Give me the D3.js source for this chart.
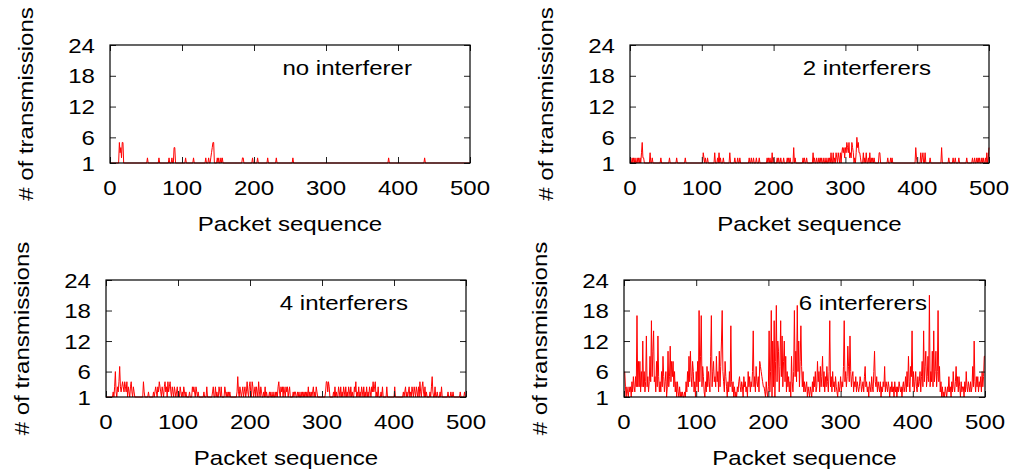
<!DOCTYPE html>
<html><head><meta charset="utf-8">
<script src="https://cdn.jsdelivr.net/npm/d3@7/dist/d3.min.js"></script>
<style>
body{margin:0;background:#fff}
svg{display:block}
text{font-family:"Liberation Sans",Arial,Helvetica,sans-serif;fill:#000}
</style>
</head><body>
<svg id="chart" width="1014" height="474"></svg>
<script>
// ---------- tick labels / titles ----------
const xTicks = [0, 100, 200, 300, 400, 500];
const yTicks = [1, 6, 12, 18, 24];
const xTitle = "Packet sequence";
const yTitle = "# of transmissions";
const panelTitles = ["no interferer", "2 interferers", "4 interferers", "6 interferers"];

// ---------- series: # of transmissions for packets 1..500 ----------
const noInterferer = [
1,1,1,1,1, 1,1,1,1,1, 1,1,5,3,4, 2,5,5,1,1, 1,1,1,1,1,
1,1,1,1,1, 1,1,1,1,1, 1,1,1,1,1, 1,1,1,1,1, 1,1,1,1,1,
1,2,1,1,1, 1,1,1,1,1, 1,1,1,1,1, 1,1,2,1,1, 1,1,1,1,1,
1,1,1,1,1, 1,2,1,1,1, 2,1,1,4,4, 1,1,1,1,1, 1,1,1,1,1,
1,1,1,1,2, 1,1,1,1,1, 1,1,1,1,1, 2,1,1,1,1, 1,1,1,1,1,
1,1,1,1,1, 1,1,2,1,1, 1,2,1,1,2, 3,4,5,5,1, 1,1,1,2,1,
2,1,1,2,1, 2,1,1,1,1, 1,1,1,1,1, 1,1,1,1,1, 1,1,1,1,1,
1,1,1,1,1, 1,1,1,2,2, 1,1,1,1,1, 1,1,1,1,1, 1,1,2,1,1,
1,1,1,1,2, 1,1,1,1,1, 1,1,1,1,1, 1,1,1,2,1, 1,1,1,1,1,
1,1,1,1,1, 2,1,1,1,1, 1,1,1,1,1, 1,1,1,1,1, 1,1,1,1,1,
1,1,1,2,1, 1,1,1,1,1, 1,1,1,1,1, 1,1,1,1,1, 1,1,1,1,1,
1,1,1,1,1, 1,1,1,1,1, 1,1,1,1,1, 1,1,1,1,1, 1,1,1,1,1,
1,1,1,1,1, 1,1,1,1,1, 1,1,1,1,1, 1,1,1,1,1, 1,1,1,1,1,
1,1,1,1,1, 1,1,1,1,1, 1,1,1,1,1, 1,1,1,1,1, 1,1,1,1,1,
1,1,1,1,1, 1,1,1,1,1, 1,1,1,1,1, 1,1,1,1,1, 1,1,1,1,1,
1,1,1,1,1, 1,1,1,1,1, 1,2,1,1,1, 1,1,1,1,1, 1,1,1,1,1,
1,1,1,1,1, 1,1,1,1,1, 1,1,1,1,1, 1,1,1,1,1, 1,1,1,1,1,
1,1,1,1,1, 1,1,1,1,1, 1,2,1,1,1, 1,1,1,1,1, 1,1,1,1,1,
1,1,1,1,1, 1,1,1,1,1, 1,1,1,1,1, 1,1,1,1,1, 1,1,1,1,1,
1,1,1,1,1, 1,1,1,1,1, 1,1,1,1,1, 1,1,1,1,1, 1,1,1,1,1
];

const twoInterferers = [
1,1,2,1,2, 1,2,1,1,2, 1,2,1,2,1, 3,5,2,2,1, 1,1,1,1,1,
1,1,3,1,1, 2,1,1,1,1, 1,1,1,1,1, 1,1,2,1,1, 1,1,1,1,1,
1,1,1,1,2, 1,1,1,1,1, 1,1,1,1,2, 1,1,1,1,1, 1,1,1,1,1,
1,2,1,1,1, 1,1,1,1,1, 1,1,1,1,1, 1,1,1,1,1, 1,1,1,1,1,
1,3,2,1,2, 1,1,2,1,1, 1,1,1,1,1, 1,1,3,1,1, 1,2,1,3,1,
2,1,1,1,2, 1,1,1,1,1, 1,1,1,3,1, 1,1,1,1,1, 2,1,1,1,2,
1,1,2,1,1, 1,1,1,1,1, 1,1,1,1,1, 2,1,1,2,1, 1,2,1,1,1,
2,1,1,1,2, 1,1,1,1,1, 1,1,1,1,1, 2,1,2,1,2, 1,1,3,1,2,
1,1,1,1,2, 1,2,1,1,2, 1,1,1,2,1, 1,1,1,2,1, 2,1,2,1,1,
1,1,4,1,2, 1,1,1,1,1, 1,1,1,1,1, 2,1,2,1,1, 2,1,1,1,1,
1,1,1,1,3, 1,2,1,1,2, 1,1,2,1,2, 1,2,1,1,2, 1,1,2,1,1,
2,1,2,1,3, 1,1,3,1,2, 1,3,2,1,3, 2,1,3,1,3, 4,3,4,2,4,
3,5,4,3,5, 2,3,2,5,4, 3,1,2,1,3, 6,4,5,3,3, 2,1,1,1,3,
1,2,1,3,1, 1,2,1,3,1, 2,1,2,1,2, 1,1,1,1,1, 1,3,3,1,1,
1,1,1,1,1, 1,1,1,2,1, 1,1,2,1,2, 1,1,1,1,1, 1,1,1,1,1,
1,1,1,1,1, 1,1,1,1,1, 1,1,1,1,1, 1,1,1,1,1, 1,1,4,2,1,
1,1,1,1,3, 1,2,3,1,1, 3,1,1,1,1, 1,1,2,1,1, 1,1,1,1,1,
1,1,1,1,1, 1,1,1,4,1, 1,1,1,1,1, 1,1,1,2,1, 1,1,1,1,2,
1,1,2,1,1, 1,1,2,1,1, 1,1,1,1,1, 1,1,1,2,1, 1,1,1,1,1,
1,2,1,1,2, 1,1,2,1,2, 1,2,1,1,2, 1,2,1,1,2, 1,3,1,2,4
];

const fourInterferers = [
1,1,1,1,1, 1,1,1,1,2, 1,3,6,2,1, 3,2,4,7,3, 2,3,4,3,2,
4,3,2,4,1, 3,2,1,3,4, 2,1,3,2,1, 1,1,1,1,1, 1,1,1,1,1,
1,4,2,1,1, 1,1,1,2,1, 1,1,1,1,1, 2,1,2,3,2, 1,3,2,4,3,
2,1,3,2,1, 3,4,2,3,1, 4,2,3,4,2, 1,3,2,1,3, 2,1,2,3,1,
2,1,3,2,1, 2,1,3,2,1, 2,1,1,1,1, 2,1,1,1,3, 2,3,2,1,3,
2,1,2,1,1, 1,1,1,1,1, 2,1,1,1,3, 1,1,1,1,1, 1,1,2,3,1,
1,3,1,2,1, 1,3,2,1,3, 1,1,1,1,3, 2,1,2,1,2, 1,2,1,1,1,
1,1,1,1,1, 1,2,5,2,1, 3,2,1,2,3, 1,2,3,1,2, 4,2,1,3,4,
2,1,4,3,1, 2,3,1,3,2, 1,4,2,1,3, 2,1,1,2,1, 3,1,2,1,1,
1,2,1,2,1, 1,2,1,1,2, 1,2,1,3,4, 2,1,3,2,3, 1,3,2,1,3,
2,3,1,2,3, 1,1,1,1,2, 1,2,2,1,1, 2,1,2,1,1, 2,1,2,1,2,
1,2,1,2,1, 3,1,2,1,2, 1,2,3,1,2, 1,3,2,1,1, 1,1,1,1,1,
1,1,1,1,2, 4,4,2,4,3, 1,1,1,1,1, 2,1,3,1,2, 1,1,3,2,1,
3,1,2,1,3, 2,1,3,1,2, 1,3,2,1,3, 1,2,1,1,3, 2,4,1,2,1,
3,1,2,1,3, 2,1,3,1,2, 1,3,1,2,1, 3,2,1,3,2, 4,2,3,4,1,
2,1,3,1,1, 1,2,1,3,1, 1,1,1,1,3, 1,1,1,1,1, 1,1,1,1,1,
3,1,1,1,1, 1,1,1,1,1, 1,1,2,1,2, 3,1,2,1,2, 3,1,2,1,3,
2,1,3,2,1, 3,2,1,3,1, 4,2,1,3,4, 2,1,3,1,2, 1,1,1,1,2,
1,3,5,2,1, 1,3,1,1,2, 1,1,1,2,1, 3,1,1,1,1, 1,1,1,1,2,
1,1,1,2,1, 1,2,1,1,1, 1,1,1,1,1, 1,2,1,1,1, 1,1,2,1,1
];

const sixInterferers = [
6,3,1,3,2, 1,3,2,3,1, 4,2,5,3,2, 5,3,17,3,8, 3,8,2,6,3,
12,3,6,2,4, 13,3,5,2,4, 9,4,16,5,10, 14,4,5,2,8, 3,13,5,2,4,
2,6,3,9,5, 2,4,6,1,3, 10,3,5,11,4, 8,5,8,3,6, 2,4,1,4,2,
1,3,1,2,1, 2,1,1,2,1, 4,2,6,3,9, 4,10,5,3,8, 6,2,4,1,6,
3,8,2,18,4, 9,17,3,7,5, 2,1,4,2,7, 3,6,4,2,9, 17,3,6,8,4,
5,3,9,4,6, 2,10,3,7,12, 18,6,4,2,8, 5,3,1,4,2, 6,3,15,4,2,
4,1,3,1,2, 1,3,2,4,5, 3,2,4,3,1, 5,3,4,2,3, 1,6,3,5,2,
4,3,6,14,3, 5,2,7,4,3, 5,2,8,7,6, 5,4,3,3,2, 1,4,2,1,3,
14,2,6,18,1, 12,3,16,1,8, 19,4,12,10,2, 7,16,5,13,3, 8,12,4,9,2,
6,3,5,2,4, 1,9,4,2,6, 18,5,10,4,19, 6,12,3,8,15, 7,3,6,2,4,
2,3,4,1,3, 2,1,3,2,1, 4,2,5,3,6, 2,3,8,4,6, 2,7,3,5,9,
3,6,2,5,3, 7,4,2,6,16, 3,5,2,6,3, 4,2,5,3,2, 1,4,2,3,5,
2,4,3,7,16, 4,6,3,5,11, 7,4,13,6,3, 5,6,2,4,3, 5,2,4,3,2,
3,5,4,2,3, 4,2,5,7,3, 4,2,3,1,4, 3,2,5,3,2, 6,10,4,3,5,
2,4,3,2,4, 1,3,2,4,3, 7,2,4,3,2, 4,3,1,3,2, 4,2,3,1,4,
2,3,1,3,2, 4,3,2,3,1, 3,4,2,3,5, 2,6,3,9,4, 2,7,5,14,3,
6,2,4,6,3, 2,5,3,4,6, 2,5,8,3,14, 4,7,10,3,5, 9,4,21,3,6,
4,10,3,14,4, 6,10,3,6,18, 4,7,2,4,1, 3,1,2,1,3, 2,1,3,2,5,
2,3,1,4,2, 6,3,2,4,7, 3,5,2,5,3, 1,4,2,3,3, 1,4,2,6,3,
2,4,3,2,4, 2,3,7,3,12, 4,2,5,3,5, 2,4,3,5,2, 6,3,5,9,9
];

// ---------- layout ----------
const FS = 21;          // font size
const SX = 1.145;       // horizontal stretch of glyphs
const panels = [
  {series: noInterferer,   title: panelTitles[0], left: 110, right: 470, top: 45,  bottom: 163},
  {series: twoInterferers, title: panelTitles[1], left: 630, right: 989, top: 45,  bottom: 163},
  {series: fourInterferers,title: panelTitles[2], left: 106, right: 466, top: 280, bottom: 397},
  {series: sixInterferers, title: panelTitles[3], left: 624, right: 985, top: 280, bottom: 397}
];

const svg = d3.select("#chart");

function txt(g, x, y, s, anchor, rotate) {
  return g.append("text")
    .attr("transform", `translate(${x},${y})${rotate ? " rotate(-90)" : ""} scale(${SX},1)`)
    .attr("text-anchor", anchor)
    .style("font-size", FS + "px")
    .text(s);
}

panels.forEach(p => {
  const g = svg.append("g");
  const x = d3.scaleLinear().domain([0, 500]).range([p.left, p.right]);
  const y = d3.scaleLinear().domain([1, 24]).range([p.bottom, p.top]);

  // panel label (line is drawn over it)
  txt(g, p.right - 58, p.top + 30, p.title, "end");

  // data line
  const line = d3.line().x((d, i) => x(i + 1)).y(d => y(d));
  g.append("path").datum(p.series)
    .attr("d", line)
    .attr("fill", "none")
    .attr("stroke", "#ff0000")
    .attr("stroke-width", 1)
    .attr("stroke-linejoin", "miter");

  // inward, mirrored ticks
  const tickStyle = sel => {
    sel.select(".domain").remove();
    sel.selectAll(".tick line").attr("stroke", "#222").attr("stroke-width", 1);
    sel.selectAll(".tick text").remove();
  };
  g.append("g").attr("transform", `translate(0,${p.bottom})`)
    .call(d3.axisBottom(x).tickValues(xTicks).tickSize(-6)).call(tickStyle);
  g.append("g").attr("transform", `translate(0,${p.top})`)
    .call(d3.axisTop(x).tickValues(xTicks).tickSize(-6)).call(tickStyle);
  g.append("g").attr("transform", `translate(${p.left},0)`)
    .call(d3.axisLeft(y).tickValues(yTicks).tickSize(-6)).call(tickStyle);
  g.append("g").attr("transform", `translate(${p.right},0)`)
    .call(d3.axisRight(y).tickValues(yTicks).tickSize(-6)).call(tickStyle);

  // border
  g.append("rect")
    .attr("x", p.left).attr("y", p.top)
    .attr("width", p.right - p.left).attr("height", p.bottom - p.top)
    .attr("fill", "none").attr("stroke", "#000").attr("stroke-width", 1.2);

  // tick labels
  xTicks.forEach(v => txt(g, x(v), p.bottom + 32, String(v), "middle"));
  yTicks.forEach(v => txt(g, p.left - 15, y(v) + 7.5, String(v), "end"));

  // axis titles
  txt(g, (p.left + p.right) / 2, p.bottom + 68, xTitle, "middle");
  txt(g, p.left - 77, (p.top + p.bottom) / 2, yTitle, "middle", true);
});
</script>
</body></html>
